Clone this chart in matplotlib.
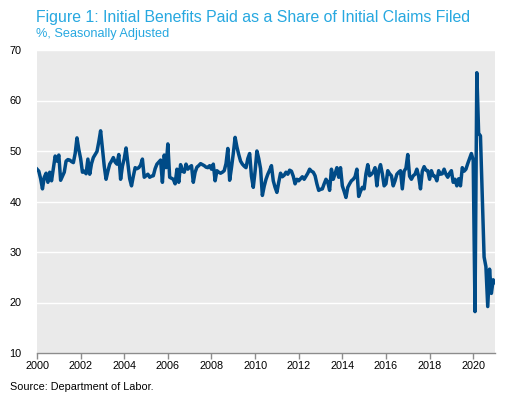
import matplotlib
matplotlib.use("Agg")
import matplotlib.pyplot as plt
import numpy as np

# Monthly values, one list per year (Jan..Dec).
y2000 = [46.4, 46.0, 44.5, 42.5, 44.8, 45.6, 43.8, 45.8, 44.1, 46.5, 49.0, 48.0]
y2001 = [49.2, 44.2, 45.0, 45.8, 48.0, 48.3, 48.2, 47.9, 47.7, 49.5, 52.6, 50.3]
y2002 = [48.5, 45.8, 46.0, 45.5, 48.4, 45.4, 47.5, 48.7, 49.3, 49.9, 51.8, 54.0]
y2003 = [50.5, 47.0, 44.4, 46.0, 47.4, 48.0, 48.7, 47.8, 47.4, 49.3, 44.4, 47.0]
y2004 = [48.5, 50.6, 47.5, 44.5, 43.1, 45.0, 46.7, 46.5, 46.7, 47.2, 48.4, 44.8]
y2005 = [45.1, 45.4, 44.8, 45.0, 45.1, 46.5, 47.4, 47.8, 48.2, 43.8, 49.2, 46.7]
y2006 = [51.4, 44.8, 44.6, 44.4, 43.5, 46.4, 43.8, 47.3, 46.0, 45.8, 47.4, 46.4]
y2007 = [46.8, 47.1, 43.8, 45.8, 46.8, 47.1, 47.5, 47.3, 47.1, 46.8, 46.7, 47.1]
y2008 = [46.4, 47.4, 44.1, 46.1, 45.8, 45.6, 45.8, 46.1, 47.5, 50.5, 44.2, 46.7]
y2009 = [49.5, 52.7, 50.8, 49.3, 48.0, 47.4, 47.0, 46.7, 48.5, 49.5, 45.0, 42.8]
y2010 = [46.0, 50.0, 48.5, 46.5, 41.2, 43.0, 44.4, 45.4, 46.2, 47.1, 44.1, 42.8]
y2011 = [41.8, 43.8, 45.6, 44.9, 45.2, 45.8, 45.4, 46.2, 46.0, 45.0, 43.5, 44.4]
y2012 = [44.1, 44.5, 44.9, 44.4, 45.0, 45.6, 46.4, 46.0, 45.8, 45.1, 43.5, 42.2]
y2013 = [42.4, 42.5, 43.5, 44.4, 43.8, 42.2, 46.4, 44.4, 45.5, 46.7, 44.8, 46.7]
y2014 = [43.1, 42.0, 40.8, 42.8, 43.5, 44.1, 44.4, 44.9, 46.4, 41.0, 42.0, 42.8]
y2015 = [42.5, 45.5, 47.3, 45.1, 45.4, 45.8, 46.7, 43.1, 46.1, 47.3, 45.5, 43.1]
y2016 = [43.5, 46.1, 45.5, 45.1, 43.1, 44.1, 45.4, 45.8, 46.1, 42.5, 46.0, 46.6]
y2017 = [49.3, 45.0, 44.4, 45.1, 45.4, 46.4, 45.0, 42.5, 46.0, 46.9, 46.2, 46.1]
y2018 = [44.4, 46.1, 45.1, 45.0, 44.1, 46.1, 45.4, 45.5, 46.4, 45.4, 44.8, 45.6]
y2019 = [46.1, 43.8, 44.4, 43.1, 44.5, 43.1, 46.7, 46.0, 46.4, 47.5, 48.5, 49.5]
y2020 = [48.2, 18.2, 65.5, 53.5, 53.0, 41.0, 29.0, 27.1, 19.2, 26.6, 21.8, 24.5]
y2021 = [24.0]

yticks = [10, 20, 30, 40, 50, 60, 70]
xticks = list(range(2000, 2021, 2))

title = "Figure 1: Initial Benefits Paid as a Share of Initial Claims Filed"
subtitle = "%, Seasonally Adjusted"
source = "Source: Department of Labor."

# Stitch years together and build monthly x positions.
share = np.array(y2000 + y2001 + y2002 + y2003 + y2004 + y2005 + y2006 + y2007
                 + y2008 + y2009 + y2010 + y2011 + y2012 + y2013 + y2014 + y2015
                 + y2016 + y2017 + y2018 + y2019 + y2020 + y2021)
months = 2000 + np.arange(len(share)) / 12.0

plt.rcParams['font.family'] = ['Liberation Sans', 'DejaVu Sans']

fig = plt.figure(figsize=(5.09, 3.97), dpi=100)
ax = fig.add_axes([37 / 509, 44 / 397, 458 / 509, 303 / 397])

# Plot area styling.
ax.set_facecolor('#EAEAEA')
for side in ['top', 'right', 'left']:
    ax.spines[side].set_visible(False)
ax.spines['bottom'].set_color('#8C8C8C')
ax.spines['bottom'].set_linewidth(1.0)

ax.plot(months, share, color='#004B87', linewidth=2.5, solid_joinstyle='round')

ax.set_xlim(2000, 2021)
ax.set_ylim(10, 70)
ax.set_yticks(yticks)
ax.set_xticks(xticks)
ax.grid(axis='y', color='white', linewidth=1.0)
ax.set_axisbelow(True)

ax.tick_params(axis='y', length=0, pad=11, labelsize=7.8, labelcolor='black')
ax.tick_params(axis='x', length=4, width=1.0, color='#8C8C8C', pad=2,
               labelsize=7.8, labelcolor='black')

# Titles and source note.
fig.text(36 / 509, 1 - 22 / 397, title, fontsize=11.4, color='#27A8E0', va='baseline')
fig.text(36 / 509, 1 - 37 / 397, subtitle, fontsize=9.2, color='#27A8E0', va='baseline')
fig.text(10 / 509, 1 - 390 / 397, source, fontsize=7.8, color='black', va='baseline')

plt.savefig("out.png", dpi=100)
